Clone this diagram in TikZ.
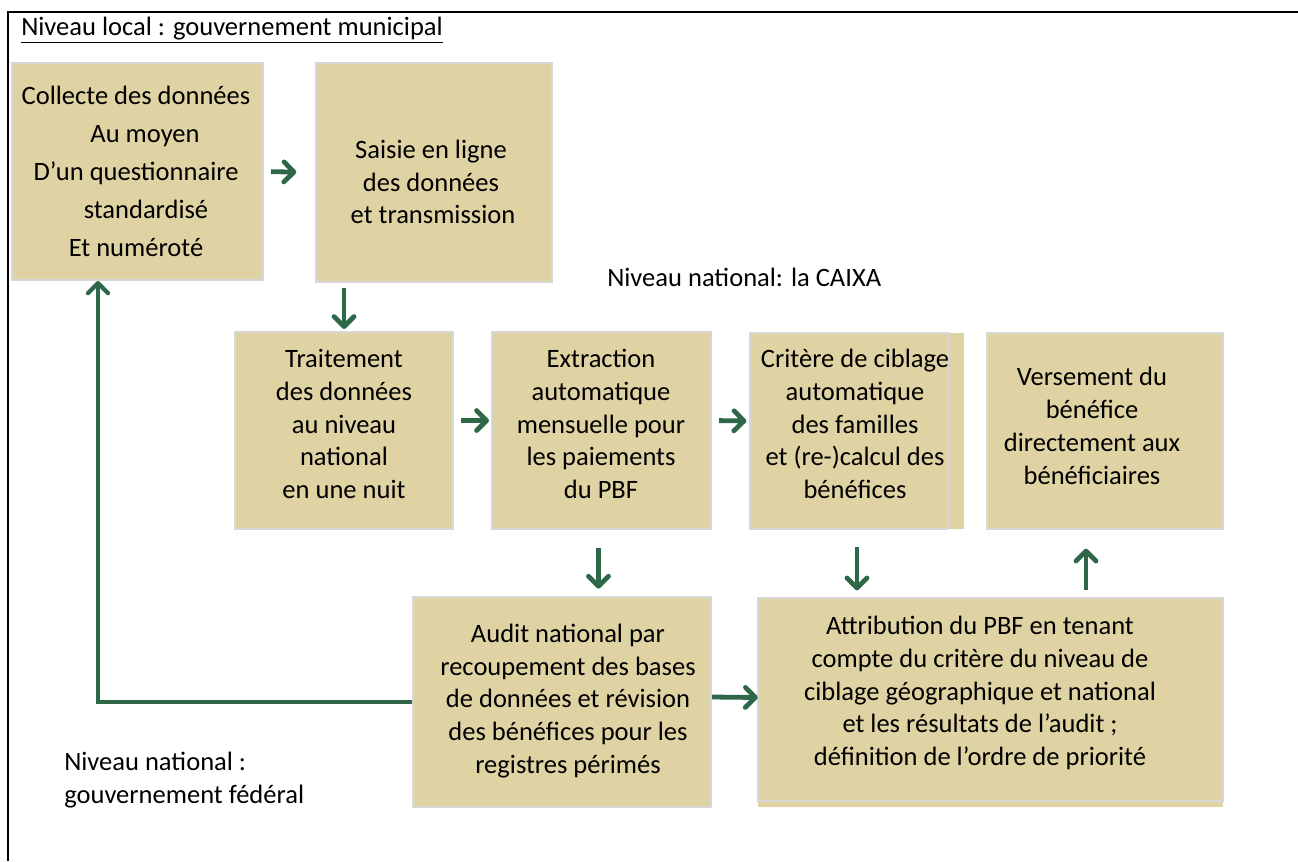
\documentclass[tikz,border=0pt]{standalone}
\usepackage{fontspec}
\setmainfont{Carlito}
\usetikzlibrary{arrows.meta,fit,calc}
\definecolor{boxtan}{RGB}{223,211,163}
\definecolor{bordergray}{RGB}{215,215,215}
\definecolor{arrgreen}{RGB}{46,104,72}
\begin{document}
\begin{tikzpicture}[x=0.75pt,y=-0.75pt,
  box/.style={fill=boxtan, draw=bordergray, line width=1.5pt, inner sep=0pt},
  strip/.style={fill=boxtan, draw=none, inner sep=0pt},
  txt/.style={align=center, inner sep=0pt, font=\fontsize{19.9pt}{24.6pt}\selectfont},
  txtwide/.style={align=center, inner sep=0pt, font=\fontsize{19.9pt}{28.5pt}\selectfont},
  lbl/.style={inner sep=0pt, font=\fontsize{19.9pt}{24.6pt}\selectfont},
  arr/.style={draw=arrgreen, line width=3.6pt, -{Straight Barb[length=7.5pt,width=15pt,round]}},
  conn/.style={draw=arrgreen, line width=3.2pt, -{Straight Barb[length=7.5pt,width=15pt,round]}}
]
\useasboundingbox (0,0) rectangle (1298,861);
% frame
\draw[line width=2.2pt] (8,861) -- (8,12) -- (1298,12);

% headings
\node[lbl, anchor=west] (hlocal) at (21,30) {\underline{Niveau local : gouvernement municipal}};
\node[lbl, anchor=west] (hcaixa) at (607,277) {Niveau national: la CAIXA};
\node[lbl, anchor=west, align=left] (hfed) at (64,780) {Niveau national :\\gouvernement fédéral};

% boxes
\node[box, fit={(12,63) (263,280)}] (collecte) {};
\node[box, fit={(316,63) (552,282)}] (saisie) {};
\node[box, fit={(235,332) (453,529)}] (traitement) {};
\node[box, fit={(492,332) (711,529)}] (extraction) {};
\node[strip, fit={(750,333) (964,529)}] (critere) {};
\node[box, fit={(750,333) (948,529)}] (critereb) {};
\node[box, fit={(987,333) (1223,529)}] (versement) {};
\node[box, fit={(413,597) (711,807)}] (audit) {};
\node[strip, fit={(758,598) (1223,807)}] (attribution) {};
\node[box, fit={(758,598) (1223,801)}] (attributionb) {};

% texts
\node[txtwide] (collecte-t) at (136,171) {Collecte des données\\\hspace*{13.5pt}Au moyen\\D’un questionnaire\\\hspace*{15pt}standardisé\\Et numéroté};
\node[txt] (saisie-t) at (431,182) {Saisie en ligne\\des données\\\hspace*{3pt}et transmission};
\node[txt] (traitement-t) at (344,424) {Traitement\\des données\\au niveau\\national\\en une nuit};
\node[txt] (extraction-t) at (601,424) {Extraction\\automatique\\mensuelle pour\\les paiements\\du PBF};
\node[txt] (critere-t) at (855,424) {Critère de ciblage\\automatique\\des familles\\et (re-)calcul des\\bénéfices};
\node[txt] (versement-t) at (1092,426) {Versement du\\bénéfice\\directement aux\\bénéficiaires};
\node[txt] (audit-t) at (568,701) {Audit national par\\recoupement des bases\\de données et révision\\des bénéfices pour les\\registres périmés};
\node[txt] (attribution-t) at (980,693) {Attribution du PBF en tenant\\compte du critère du niveau de\\ciblage géographique et national\\et les résultats de l’audit ;\\définition de l’ordre de priorité};

% connector helper points
\coordinate (ex-s) at ($(extraction.south)+(-3,0)$);
\coordinate (ve-s) at ($(versement.south)+(-19,0)$);
\coordinate (co-s) at ($(collecte.south)+(-39.5,0)$);
\coordinate (tr-e) at ($(traitement.east)+(0,-10)$);
\coordinate (ex-w) at ($(extraction.west)+(0,-10)$);
\coordinate (ex-e) at ($(extraction.east)+(0,-10)$);
\coordinate (cr-w) at ($(critereb.west)+(0,-10)$);
\coordinate (au-e) at ($(audit.east)+(0,-5)$);
\coordinate (at-w) at ($(attribution.west)+(0,-5)$);

% connectors
\draw[arr, shorten <=5.25pt, shorten >=14pt] (collecte.east) -- (saisie.west);
\draw[arr, shorten <=4pt, shorten >=1.5pt] (traitement.north |- saisie.south) -- (traitement.north);
\draw[arr, shorten <=5.25pt, shorten >=1.5pt] (tr-e) -- (ex-w);
\draw[arr, shorten <=5.25pt, shorten >=2pt] (ex-e) -- (cr-w);
\draw[arr, shorten <=13.5pt, shorten >=5.5pt] (ex-s) -- (ex-s |- audit.north);
\draw[arr, shorten <=13.5pt, shorten >=5.5pt] (critere.south) -- (critere.south |- attribution.north);
\draw[arr, shorten <=6pt, shorten >=14pt] (ve-s |- attribution.north) -- (ve-s);
\draw[arr] (au-e) -- (at-w);
\draw[conn] (audit.west) -| (co-s);
\end{tikzpicture}
\end{document}
